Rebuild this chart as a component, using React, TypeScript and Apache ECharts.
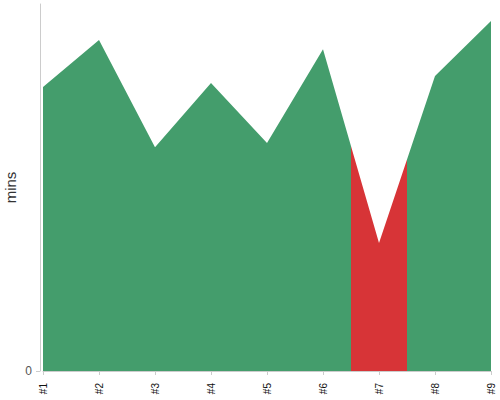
import React, { useEffect, useRef } from 'react';
import * as echarts from 'echarts';

// categories and values (mins)
const categories = ['#1', '#2', '#3', '#4', '#5', '#6', '#7', '#8', '#9'];
const minutes = [77.4, 90.2, 61.0, 78.5, 62.1, 87.7, 34.9, 80.4, 95.4];
const yTicks = [0];
// the red section spans half a step either side of this category
const highlight = '#7';

const GREEN = '#449d6c';
const RED = '#d73437';

const App = () => {
  const chartRef = useRef<HTMLDivElement>(null);

  useEffect(() => {
    if (!chartRef.current) return;
    const chart = echarts.init(chartRef.current, null, { renderer: 'svg' });

    // hard-stop gradient across the area's width (#1 .. #9)
    const idx = categories.indexOf(highlight);
    const span = categories.length - 1;
    const from = (idx - 0.5) / span;
    const to = (idx + 0.5) / span;
    const fill = new echarts.graphic.LinearGradient(0, 0, 1, 0, [
      { offset: 0, color: GREEN },
      { offset: from, color: GREEN },
      { offset: from, color: RED },
      { offset: to, color: RED },
      { offset: to, color: GREEN },
      { offset: 1, color: GREEN },
    ]);

    chart.setOption({
      animation: false,
      grid: { left: 43, right: 9, top: 4, bottom: 29, containLabel: false, outerBoundsMode: 'none' },
      xAxis: {
        type: 'category',
        data: categories,
        boundaryGap: false,
        offset: 4,
        axisLine: { lineStyle: { color: '#ccc' } },
        axisTick: { length: 4, lineStyle: { color: '#ccc' } },
        axisLabel: { rotate: 90, fontSize: 10, color: '#111', margin: 8 },
      },
      yAxis: {
        type: 'value',
        min: 0,
        max: 100,
        offset: 3,
        name: 'mins',
        nameLocation: 'middle',
        nameGap: 22,
        nameMoveOverlap: false,
        nameTextStyle: { fontSize: 15, color: '#333' },
        axisLine: { show: true, lineStyle: { color: '#ccc' } },
        axisTick: { show: true, length: 4, customValues: yTicks, lineStyle: { color: '#ccc' } },
        axisLabel: { customValues: yTicks, fontSize: 12, color: '#555', margin: 8 },
        splitLine: { show: false },
      },
      series: [
        {
          type: 'line',
          data: minutes,
          showSymbol: false,
          lineStyle: { width: 0 },
          areaStyle: { opacity: 1, color: fill },
        },
      ],
    });

    return () => chart.dispose();
  }, []);

  return (
    <div
      ref={chartRef}
      style={{ position: 'absolute', left: 0, top: 0, width: 500, height: 400 }}
    />
  );
};

export default App;
